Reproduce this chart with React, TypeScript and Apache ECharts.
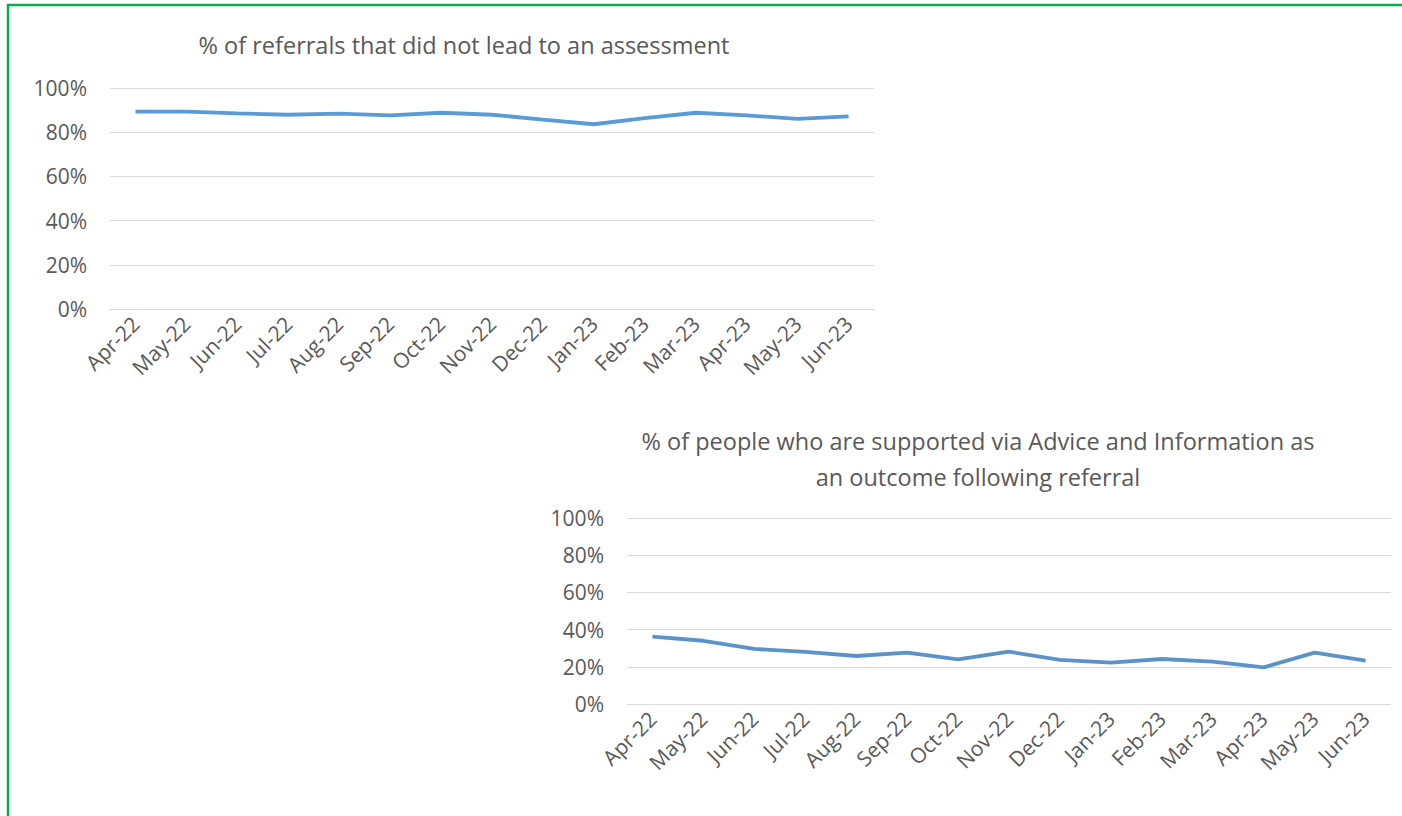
import React, { useEffect, useRef } from "react";
import * as echarts from "echarts";

const categories = [
  "Apr-22", "May-22", "Jun-22", "Jul-22", "Aug-22", "Sep-22", "Oct-22", "Nov-22",
  "Dec-22", "Jan-23", "Feb-23", "Mar-23", "Apr-23", "May-23", "Jun-23",
];

const notAssessed = [89.3, 89.3, 88.5, 87.9, 88.4, 87.6, 88.8, 87.9, 85.7, 83.6, 86.4, 88.8, 87.6, 86.0, 87.2];

const adviceInfo = [36.2, 34.0, 29.6, 28.0, 25.8, 27.6, 24.0, 28.1, 23.7, 22.2, 24.2, 22.8, 19.7, 27.6, 23.3];

const yTicks = [0, 20, 40, 60, 80, 100];

const title1 = "% of referrals that did not lead to an assessment";
const title2 = "% of people who are supported via Advice and Information as\nan outcome following referral";

const FONT = "Open Sans";
const GREY = "#595959";
const LINE = "#5b9bd5";

export default function App() {
  const ref = useRef<HTMLDivElement>(null);
  useEffect(() => {
    if (!ref.current) return;
    const chart = echarts.init(ref.current, undefined, { renderer: "svg" });
    const yAxisBase = (gridIndex: number) => ({
      type: "value",
      gridIndex,
      min: yTicks[0],
      max: yTicks[yTicks.length - 1],
      interval: 20,
      axisLine: { show: false },
      axisTick: { show: false },
      splitLine: { lineStyle: { color: "#d9d9d9", width: 1 } },
      axisLabel: {
        formatter: "{value}%",
        color: GREY,
        fontFamily: FONT,
        fontSize: 21,
        margin: 23,
      },
    });
    const xAxisBase = (gridIndex: number) => ({
      type: "category",
      gridIndex,
      data: categories,
      boundaryGap: true,
      axisLine: { show: false },
      axisTick: { show: false },
      axisLabel: {
        rotate: 45,
        interval: 0,
        color: GREY,
        fontFamily: FONT,
        fontSize: 21,
        margin: 11,
      },
    });
    chart.setOption({
      animation: false,
      backgroundColor: "#ffffff",
      title: [
        {
          text: title1,
          left: 459,
          top: 28,
          textAlign: "center",
          textStyle: { color: GREY, fontFamily: FONT, fontSize: 23.5, fontWeight: "normal" },
        },
        {
          text: title2,
          left: 973,
          top: 418,
          textAlign: "center",
          textStyle: { color: GREY, fontFamily: FONT, fontSize: 23.5, fontWeight: "normal", lineHeight: 36 },
        },
      ],
      grid: [
        { left: 110, right: 1402 - 874, top: 88, bottom: 816 - 309, containLabel: false },
        { left: 627, right: 1402 - 1391, top: 518, bottom: 816 - 704, containLabel: false },
      ],
      xAxis: [xAxisBase(0), xAxisBase(1)],
      yAxis: [yAxisBase(0), yAxisBase(1)],
      series: [
        {
          type: "line",
          xAxisIndex: 0,
          yAxisIndex: 0,
          data: notAssessed,
          symbol: "none",
          lineStyle: { color: LINE, width: 3.8 },
        },
        {
          type: "line",
          xAxisIndex: 1,
          yAxisIndex: 1,
          data: adviceInfo,
          symbol: "none",
          lineStyle: { color: "#5b93c8", width: 3.8 },
        },
      ],
      graphic: [
        { type: "line", shape: { x1: 7, y1: 5, x2: 1402, y2: 5 }, style: { stroke: "#00b050", lineWidth: 2.5 } },
        { type: "line", shape: { x1: 8, y1: 4, x2: 8, y2: 816 }, style: { stroke: "#00b050", lineWidth: 2.5 } },
      ],
    });
    return () => chart.dispose();
  }, []);
  return (
    <div
      ref={ref}
      style={{ position: "fixed", left: 0, top: 0, width: 1402, height: 816 }}
    />
  );
}
